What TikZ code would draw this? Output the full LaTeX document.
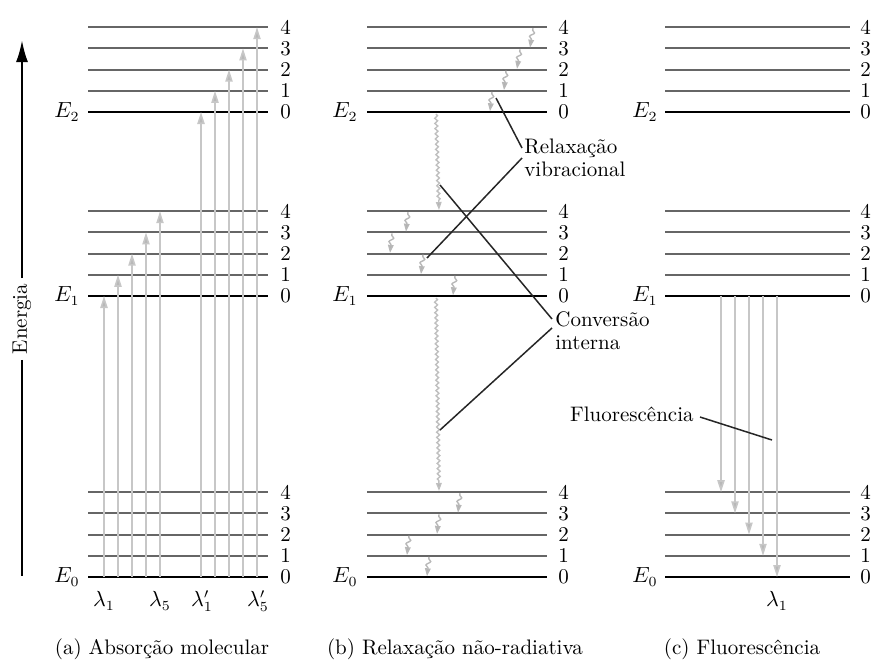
\documentclass[tikz,border=0pt]{standalone}
\usetikzlibrary{arrows.meta,decorations.pathmorphing,calc}
\newcommand{\myfs}{\fontsize{10.5}{11.6}\selectfont}
\begin{document}
\begin{tikzpicture}[x=0.5pt,y=-0.5pt,
  lvl/.style={line width=1.05pt,draw=black!60},
  lvlz/.style={line width=1.4pt,draw=black},
  lab/.style={inner sep=0pt,font=\myfs},
  absarr/.style={draw=black!22,line width=0.8pt,-{Triangle[length=6pt,width=3.6pt,fill=black!28]}},
  wig/.style={draw=black!25,line width=0.7pt,decorate,
    decoration={snake,amplitude=0.7pt,segment length=2.6pt,post length=4pt},
    -{Triangle[length=4pt,width=2.8pt,fill=black!30]}},
  swig/.style={draw=black!28,line width=0.7pt,decorate,
    decoration={snake,amplitude=1.1pt,segment length=4pt,pre length=1pt,post length=4pt},
    -{Triangle[length=4pt,width=2.8pt,fill=black!30]}},
  callout/.style={draw=black!85,line width=0.75pt},
  captxt/.style={inner sep=0pt,font=\myfs}]
\useasboundingbox (0,0) rectangle (874,661);

% energy levels for the three panels
\foreach \xa/\xb/\xe/\xn in {88/268/80/280, 367/547/358/558, 665/850/658/860}{
  \foreach \base in {112,296,577}{
    \draw[lvlz] (\xa,\base) -- (\xb,\base);
    \node[lab,anchor=west] at (\xn,\base) {0};
    \foreach \k in {1,...,4}{
      \draw[lvl] (\xa,{\base-21.2*\k}) -- (\xb,{\base-21.2*\k});
      \node[lab,anchor=west] at (\xn,{\base-21.2*\k}) {\k};
    }
  }
  \node[lab,anchor=east] at (\xe,112) {$E_2$};
  \node[lab,anchor=east] at (\xe,296) {$E_1$};
  \node[lab,anchor=east] at (\xe,577) {$E_0$};
}

% energy axis
\node[rotate=90,inner sep=2.6pt,font=\myfs] (energ) at (22,319) {Energia};
\coordinate (etop) at (22,40);
\coordinate (ebot) at (22,576);
\draw[line width=1.2pt,-{Latex[length=11pt,width=6pt]}] (energ.east) -- (etop);
\draw[line width=1.2pt] (energ.west) -- (ebot);

% (a) absorption
\foreach \x/\k in {104/0,118/1,132/2,146/3,160/4}{
  \draw[absarr] (\x,577) -- (\x,{296-21.2*\k});
}
\foreach \x/\k in {201/0,215/1,229/2,243/3,257/4}{
  \draw[absarr] (\x,577) -- (\x,{112-21.2*\k});
}
\node[lab] (l1) at (104,601) {$\lambda_1$};
\node[lab] (l5) at (160,601) {$\lambda_5$};
\node[lab] (l1p) at (202,601) {$\lambda'_1$};
\node[lab] (l5p) at (258,601) {$\lambda'_5$};

% (b) non-radiative relaxation
\foreach \xt/\xb/\yt in {533/530/27.2, 520/517/48.4, 506/504/69.6, 492/490/90.8,
                         408/406/211.2, 392/390/232.4, 423/421/253.6, 455/453/274.8,
                         460/458/492.2, 439/437/513.4, 409/407/534.6, 429/427/555.8}{
  \draw[swig] (\xt,\yt+1) -- (\xb,\yt+20.5);
}
\draw[wig] (436,114) -- (439,210);
\draw[wig] (436,298) -- (439,491);

\node[anchor=west,align=left,inner sep=0pt,font=\myfs] (relax) at (524,158)
  {Relaxação\\vibracional};
\draw[callout] (496,98) -- ($(relax.west)+(-2,-10)$);
\draw[callout] ($(relax.west)+(-2,0)$) -- (427,258);

\node[anchor=west,align=left,inner sep=0pt,font=\myfs] (conv) at (555,331)
  {Conversão\\interna};
\draw[callout] (440,185) -- ($(conv.west)+(-3,-12)$);
\draw[callout] ($(conv.west)+(-3,-3)$) -- (440,430);

% (c) fluorescence
\foreach \x/\k in {721/4,735/3,749/2,763/1,777/0}{
  \draw[absarr] (\x,296) -- (\x,{577-21.2*\k});
}
\node[lab] (l1c) at (777,601) {$\lambda_1$};
\node[anchor=east,inner sep=0pt,font=\myfs] (fluor) at (694,414) {Fluorescência};
\draw[callout] ($(fluor.east)+(6,3)$) -- (772,440);

% captions
\node[captxt] (capa) at (162,649) {(a) Absorção molecular};
\node[captxt] (capb) at (455,649) {(b) Relaxação não-radiativa};
\node[captxt] (capc) at (742,649) {(c) Fluorescência};
\end{tikzpicture}
\end{document}
